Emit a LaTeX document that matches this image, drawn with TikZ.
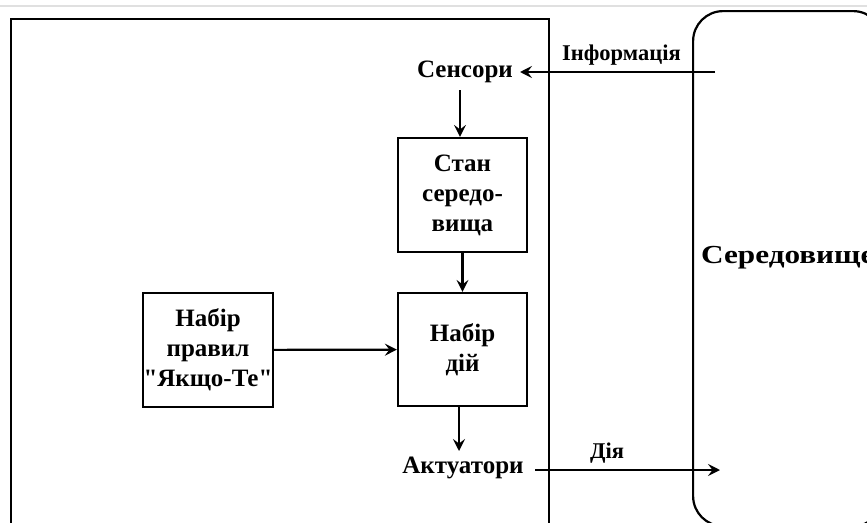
\documentclass[tikz,border=0pt]{standalone}
\usepackage{fontspec}
\setmainfont{Liberation Serif}[Ligatures=TeXOff]
\newfontfamily\wideserif{Liberation Serif}[Ligatures=TeXOff, FakeStretch=1.2]
\usetikzlibrary{arrows.meta}
\tikzset{
  lbl/.style={font=\bfseries\fontsize{25}{30}\selectfont, inner sep=1pt},
  smalllbl/.style={font=\bfseries\fontsize{22.5}{27}\selectfont, inner sep=1pt},
  boxnode/.style={draw, line width=2.2pt, align=center, font=\bfseries\fontsize{25}{30}\selectfont, inner sep=0pt},
  conn/.style={line width=2.2pt, -{Stealth[length=12pt,width=12pt,inset=4.5pt]}},
  frame/.style={line width=2.2pt}
}
\begin{document}
\begin{tikzpicture}[x=1pt,y=-1pt]
\useasboundingbox (0,0) rectangle (867,522);
\clip (0,0) rectangle (867,522);
\fill[white] (0,0) rectangle (867,522);
\draw[black!12, line width=1.5pt] (0,6) -- (867,6);
% agent frame
\node[frame, draw, minimum width=538pt, minimum height=530pt, inner sep=0pt, anchor=north west] (agent) at (10,18) {};
% environment
\node[frame, draw, rounded corners=30pt, minimum width=190pt, minimum height=515pt, inner sep=0pt, anchor=north west] (envbox) at (692,10) {};
\node[anchor=west, inner sep=0pt, font=\wideserif\bfseries\fontsize{26}{30}\selectfont] (envtext) at (701,258) {Середовище};
% nodes
\node[lbl] (sens) at (465,72) {Сенсори};
\node[boxnode, minimum width=129pt, minimum height=114pt] (state) at (462.5,195) {Стан\\середо-\\вища};
\node[boxnode, minimum width=129pt, minimum height=113pt] (acts) at (462.5,349.5) {Набір\\дій};
\node[boxnode, minimum width=130pt, minimum height=114pt] (rules) at (208,350) {Набір\\правил\\"Якщо-Те"};
\node[lbl] (actu) at (463,468) {Актуатори};
% connectors
\coordinate (infostart) at (715,72);
\coordinate (infoend) at (520,72);
\coordinate (actstart) at (535,470);
\coordinate (actend) at (720,470);
\coordinate (sensout) at (460,90);
\coordinate (actsout) at (459,451);
\draw[conn] (infostart) -- node[smalllbl, pos=0.48, above=5pt] (infolbl) {Інформація} (infoend);
\draw[conn] (sensout) -- (sensout |- state.north);
\draw[conn] (state) -- (acts);
\draw[conn] (rules) -- (acts);
\draw[conn] (acts.south -| actsout) -- (actsout);
\draw[conn] (actstart) -- node[smalllbl, pos=0.39, above=5pt] (actlbl) {Дія} (actend);
\end{tikzpicture}
\end{document}
